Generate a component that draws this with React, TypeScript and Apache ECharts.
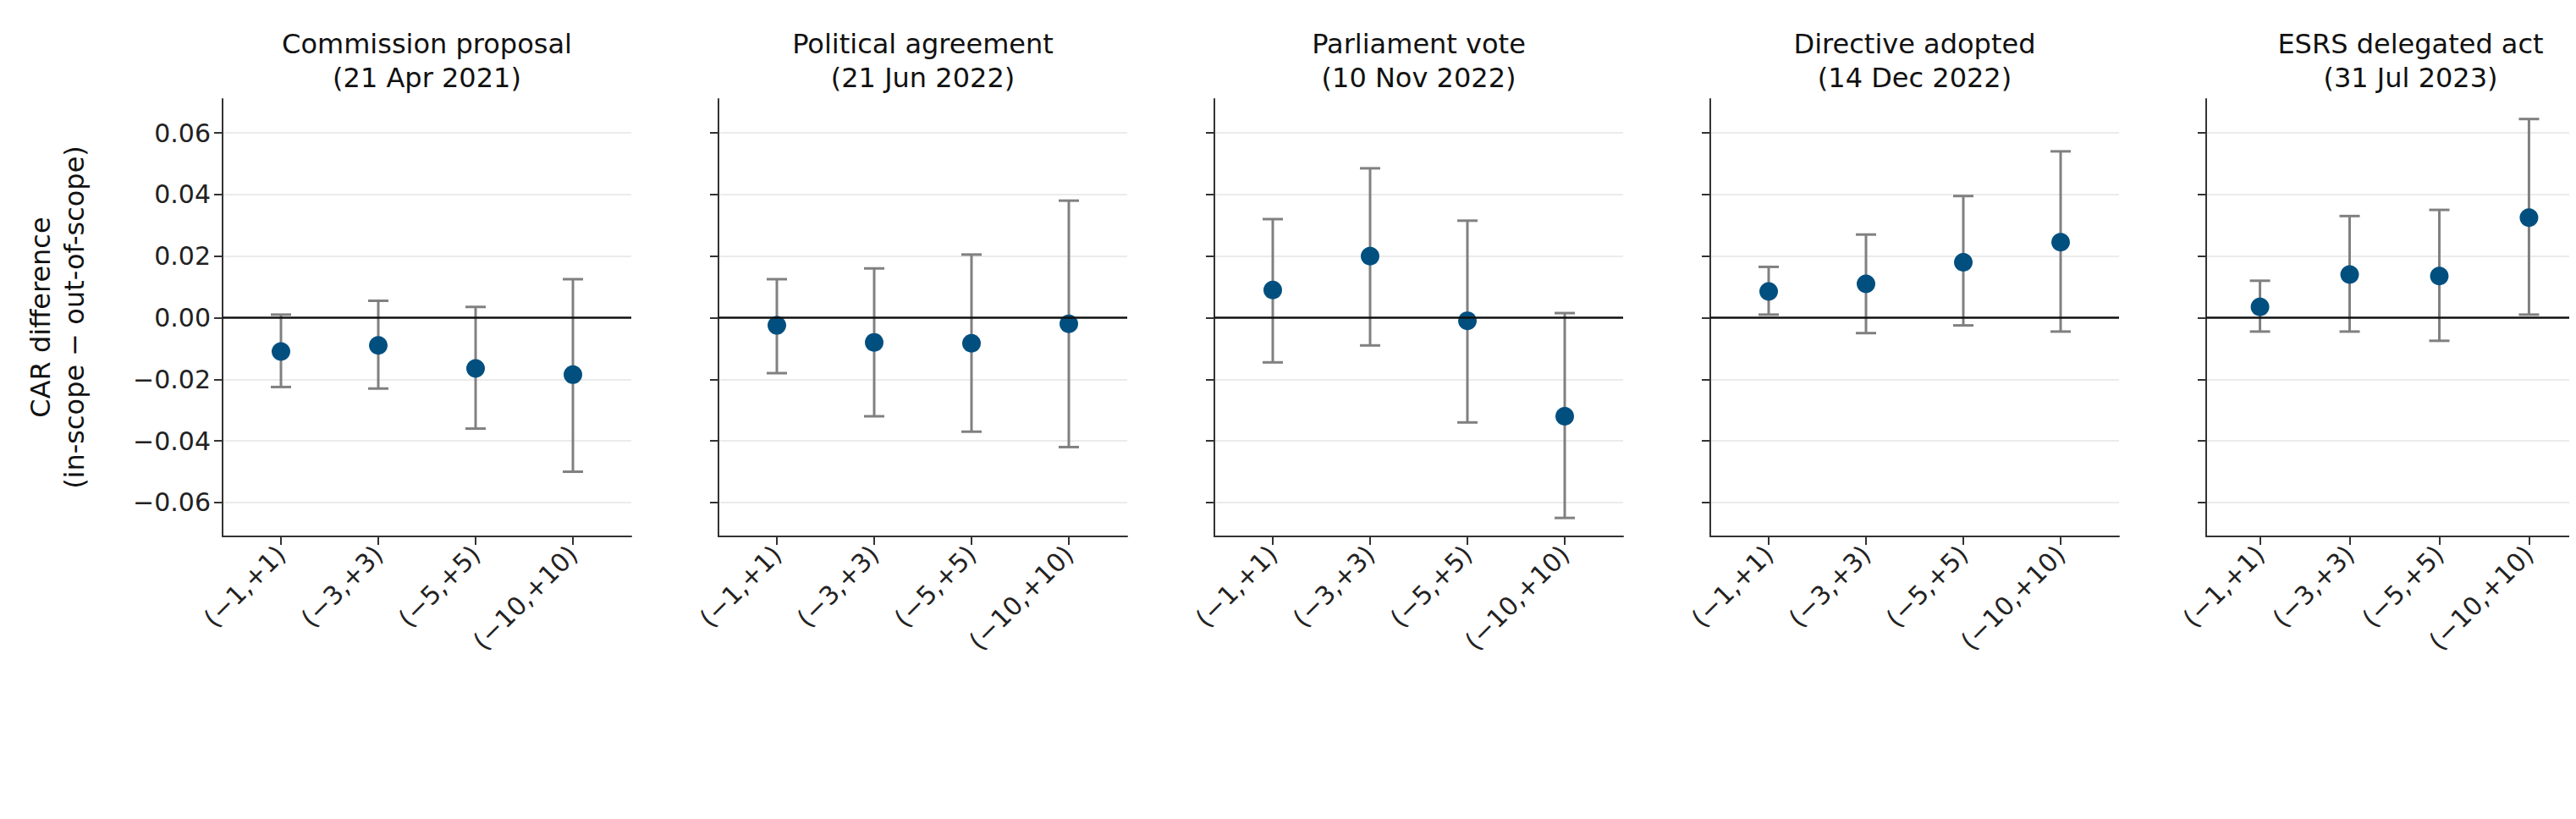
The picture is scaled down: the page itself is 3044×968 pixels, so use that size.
import { useEffect, useRef } from 'react';
import * as echarts from 'echarts';

const titles = [
  'Commission proposal\n(21 Apr 2021)',
  'Political agreement\n(21 Jun 2022)',
  'Parliament vote\n(10 Nov 2022)',
  'Directive adopted\n(14 Dec 2022)',
  'ESRS delegated act\n(31 Jul 2023)',
];
const windows = ['(\u22121,+1)', '(\u22123,+3)', '(\u22125,+5)', '(\u221210,+10)'];
const yTicks = [-0.06, -0.04, -0.02, 0, 0.02, 0.04, 0.06];

// estimates per panel, per window
const est = [
  [-0.011, -0.009, -0.0165, -0.0185],
  [-0.0025, -0.008, -0.0083, -0.002],
  [0.009, 0.02, -0.001, -0.032],
  [0.0085, 0.011, 0.018, 0.0245],
  [0.0035, 0.014, 0.0135, 0.0325],
];
const lower = [
  [-0.0225, -0.023, -0.036, -0.05],
  [-0.018, -0.032, -0.037, -0.042],
  [-0.0145, -0.009, -0.034, -0.065],
  [0.001, -0.005, -0.0025, -0.0045],
  [-0.0045, -0.0045, -0.0075, 0.001],
];
const upper = [
  [0.001, 0.0055, 0.0035, 0.0125],
  [0.0125, 0.016, 0.0205, 0.038],
  [0.032, 0.0485, 0.0315, 0.0015],
  [0.0165, 0.027, 0.0395, 0.054],
  [0.012, 0.033, 0.035, 0.0645],
];

const App = () => {
  const chartRef = useRef<HTMLDivElement | null>(null);

  useEffect(() => {
    if (!chartRef.current) return;
    const chart = echarts.init(chartRef.current, null, { renderer: 'svg' });
    const left0 = 255;
    const step = 586;
    const w = 483;
    const font = 'DejaVu Sans';

    const grids: any[] = [];
    const xAxes: any[] = [];
    const yAxes: any[] = [];
    const series: any[] = [];
    const graphics: any[] = [];

    titles.forEach((t, i) => {
      grids.push({ left: left0 + step * i, top: 109, width: w, height: 517 });
      xAxes.push({
        gridIndex: i,
        type: 'value',
        min: -0.6,
        max: 3.6,
        splitLine: { show: false },
        axisLine: { onZero: false, lineStyle: { color: '#333', width: 2 } },
        axisTick: { customValues: [0, 1, 2, 3], length: 10, lineStyle: { color: '#333', width: 2 } },
        axisLabel: {
          customValues: [0, 1, 2, 3],
          formatter: (v: number) => windows[Math.round(v)],
          rotate: 45,
          fontSize: 30,
          fontFamily: font,
          color: '#222',
          margin: 16,
        },
      });
      yAxes.push({
        gridIndex: i,
        type: 'value',
        min: -0.071,
        max: 0.071,
        axisLine: { show: true, onZero: false, lineStyle: { color: '#333', width: 2 } },
        axisTick: { show: true, customValues: yTicks, length: 10, lineStyle: { color: '#333', width: 2 } },
        splitLine: { show: false },
        axisLabel: {
          show: i === 0,
          customValues: yTicks,
          formatter: (v: number) => (v < 0 ? '\u2212' : '') + Math.abs(v).toFixed(2),
          fontSize: 30,
          fontFamily: font,
          color: '#222',
          margin: 14,
        },
      });
      series.push({
        type: 'custom',
        xAxisIndex: i,
        yAxisIndex: i,
        data: windows.map((_, k) => [k, lower[i][k], upper[i][k]]),
        renderItem: (_p: any, api: any) => {
          const lo = api.coord([api.value(0), api.value(1)]);
          const hi = api.coord([api.value(0), api.value(2)]);
          const style = { stroke: '#808080', lineWidth: 3 };
          return {
            type: 'group',
            children: [
              { type: 'line', shape: { x1: lo[0], y1: lo[1], x2: hi[0], y2: hi[1] }, style },
              { type: 'line', shape: { x1: lo[0] - 12, y1: lo[1], x2: lo[0] + 12, y2: lo[1] }, style },
              { type: 'line', shape: { x1: hi[0] - 12, y1: hi[1], x2: hi[0] + 12, y2: hi[1] }, style },
            ],
          };
        },
        z: 2,
      });
      series.push({
        type: 'scatter',
        xAxisIndex: i,
        yAxisIndex: i,
        data: est[i].map((v, k) => [k, v]),
        symbolSize: 22,
        itemStyle: { color: '#004f7f', opacity: 1 },
        z: 3,
        markLine: {
          silent: true,
          symbol: 'none',
          label: { show: false },
          lineStyle: { color: '#ebebeb', width: 2, type: 'solid' },
          data: [-0.06, -0.04, -0.02, 0.02, 0.04, 0.06].map((y) => ({ yAxis: y })),
          z: 0,
        },
      });
      series.push({
        type: 'scatter',
        xAxisIndex: i,
        yAxisIndex: i,
        data: [],
        markLine: {
          silent: true,
          symbol: 'none',
          label: { show: false },
          lineStyle: { color: '#111', width: 2.5, type: 'solid' },
          data: [{ yAxis: 0 }],
        },
      });
      graphics.push({
        type: 'text',
        x: left0 + step * i + w / 2,
        y: 24,
        style: {
          text: t,
          align: 'center',
          verticalAlign: 'top',
          fontSize: 32,
          lineHeight: 40,
          fontFamily: font,
          fill: '#111',
        },
      });
    });

    graphics.push({
      type: 'text',
      x: 60,
      y: 367,
      rotation: Math.PI / 2,
      style: {
        text: 'CAR difference\n(in-scope \u2212 out-of-scope)',
        align: 'center',
        verticalAlign: 'middle',
        fontSize: 32,
        lineHeight: 40,
        fontFamily: font,
        fill: '#111',
      },
    });

    chart.setOption({
      animation: false,
      backgroundColor: '#fff',
      grid: grids,
      xAxis: xAxes,
      yAxis: yAxes,
      series,
      graphic: graphics,
    });

    return () => {
      chart.dispose();
    };
  }, []);

  return <div ref={chartRef} style={{ width: '3044px', height: '968px' }} />;
};

export default App;
